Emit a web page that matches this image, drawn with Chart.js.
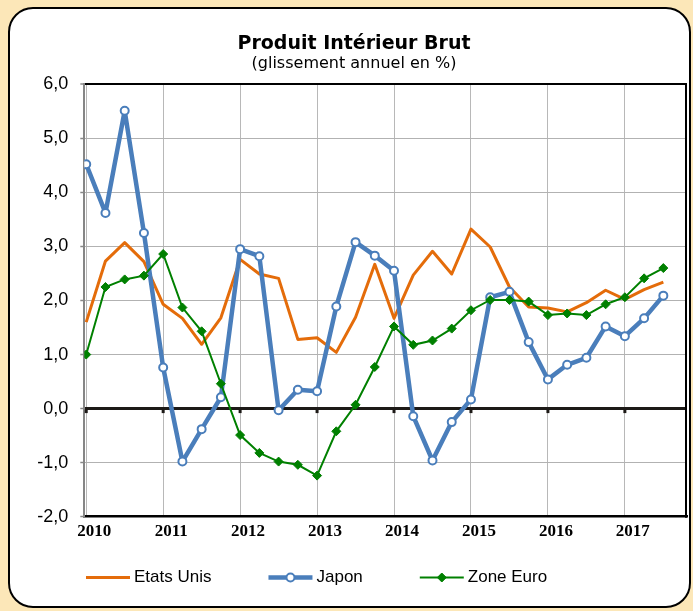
<!DOCTYPE html>
<html>
<head>
<meta charset="utf-8">
<script src="https://cdn.jsdelivr.net/npm/chart.js@4/dist/chart.umd.min.js"></script>
<style>
  html, body { margin: 0; padding: 0; background: #fce7b8; }
</style>
</head>
<body>
<canvas id="pibChart" width="693" height="611"></canvas>
<script>
// year labels, one tick every 4 quarters
const years = ['2010', '2011', '2012', '2013', '2014', '2015', '2016', '2017'];

// quarterly values, 2010 T1 -> 2017 T3
const etatsUnis = [1.60, 2.73, 3.07, 2.72, 1.93, 1.67, 1.19, 1.68, 2.76, 2.49, 2.41, 1.28,
  1.31, 1.04, 1.69, 2.67, 1.67, 2.47, 2.91, 2.49, 3.32, 2.99, 2.25, 1.88,
  1.86, 1.79, 1.96, 2.19, 2.02, 2.20, 2.34];
const japon = [4.52, 3.62, 5.51, 3.25, 0.76, -0.98, -0.38, 0.21, 2.95, 2.82, -0.03, 0.35,
  0.32, 1.89, 3.08, 2.83, 2.55, -0.14, -0.96, -0.25, 0.17, 2.06, 2.16, 1.23,
  0.54, 0.81, 0.94, 1.52, 1.34, 1.67, 2.09];
const zoneEuro = [1.00, 2.25, 2.39, 2.46, 2.86, 1.87, 1.43, 0.46, -0.49, -0.82, -0.98, -1.04,
  -1.24, -0.42, 0.07, 0.77, 1.52, 1.18, 1.26, 1.48, 1.82, 2.01, 2.01, 1.98,
  1.73, 1.76, 1.73, 1.93, 2.06, 2.41, 2.60];

const toPoints = arr => arr.map((v, i) => ({ x: i, y: v }));

// white rounded card on beige page, plus right border and zero-line ticks
const framePlugin = {
  id: 'frame',
  beforeDraw(chart) {
    const ctx = chart.ctx;
    ctx.save();
    ctx.fillStyle = '#fce7b8';
    ctx.fillRect(0, 0, chart.width, chart.height);
    ctx.beginPath();
    ctx.roundRect(9, 8, 681, 599, 24);
    ctx.fillStyle = '#fff';
    ctx.fill();
    ctx.lineWidth = 2;
    ctx.strokeStyle = '#000';
    ctx.stroke();
    ctx.restore();
  },
  beforeDatasetsDraw(chart) {
    const ctx = chart.ctx;
    const area = chart.chartArea;
    const y0 = chart.scales.y.getPixelForValue(0);
    ctx.save();
    ctx.fillStyle = '#1d1a17';
    chart.scales.x.ticks.forEach(t => {
      const x = chart.scales.x.getPixelForValue(t.value);
      ctx.fillRect(x - 1.5, y0 + 1, 3, 3.5);
    });
    ctx.strokeStyle = '#000';
    ctx.lineWidth = 2;
    ctx.beginPath();
    ctx.moveTo(area.right - 1, area.top - 1);
    ctx.lineTo(area.right - 1, area.bottom + 1);
    ctx.stroke();
    ctx.restore();
  }
};

// legend with line + marker samples
const legendPlugin = {
  id: 'lineLegend',
  afterDraw(chart) {
    const ctx = chart.ctx;
    const y = 577.5;
    let x = 86;
    ctx.save();
    ctx.font = '17px "Liberation Sans", Arial, sans-serif';
    ctx.textBaseline = 'middle';
    chart.data.datasets.forEach(ds => {
      ctx.strokeStyle = ds.borderColor;
      ctx.lineWidth = ds.borderWidth;
      ctx.beginPath();
      ctx.moveTo(x, y);
      ctx.lineTo(x + 44, y);
      ctx.stroke();
      if (ds.pointRadius > 0) {
        ctx.fillStyle = ds.pointBackgroundColor;
        ctx.strokeStyle = ds.pointBorderColor;
        ctx.lineWidth = ds.pointBorderWidth;
        Chart.helpers.drawPoint(ctx, {
          pointStyle: ds.pointStyle,
          radius: ds.pointRadius,
          borderWidth: ds.pointBorderWidth,
          rotation: 0
        }, x + 22, y);
      }
      ctx.fillStyle = '#000';
      ctx.fillText(ds.label, x + 48, y);
      x += 48 + ctx.measureText(ds.label).width + 57;
    });
    ctx.restore();
  }
};

new Chart(document.getElementById('pibChart'), {
  type: 'line',
  data: {
    datasets: [
      {
        label: 'Etats Unis',
        data: toPoints(etatsUnis),
        borderColor: '#e46c0a',
        borderWidth: 3,
        borderJoinStyle: 'round',
        pointRadius: 0,
        tension: 0,
        order: 2
      },
      {
        label: 'Japon',
        data: toPoints(japon),
        borderColor: '#4a7ebb',
        borderWidth: 4.5,
        borderJoinStyle: 'round',
        pointStyle: 'circle',
        pointRadius: 4,
        pointBorderWidth: 2,
        pointBackgroundColor: '#fff',
        pointBorderColor: '#4a7ebb',
        tension: 0,
        order: 1
      },
      {
        label: 'Zone Euro',
        data: toPoints(zoneEuro),
        borderColor: '#008000',
        borderWidth: 2,
        pointStyle: 'rectRot',
        pointRadius: 4.5,
        pointBorderWidth: 1,
        pointBackgroundColor: '#008000',
        pointBorderColor: '#008000',
        tension: 0,
        order: 0
      }
    ]
  },
  options: {
    responsive: false,
    animation: false,
    devicePixelRatio: 1,
    events: [],
    layout: { padding: { top: 12, left: 20, right: 5, bottom: 0 } },
    plugins: {
      legend: { display: false },
      tooltip: { enabled: false },
      title: {
        display: true,
        text: 'Produit Intérieur Brut',
        color: '#000',
        font: { family: 'DejaVu Sans', size: 19, weight: 'bold', lineHeight: 1 },
        padding: { top: 22.5, bottom: 2 }
      },
      subtitle: {
        display: true,
        text: '(glissement annuel en %)',
        color: '#000',
        font: { family: 'DejaVu Sans', size: 16, lineHeight: 1 },
        padding: { top: 0, bottom: 12.8 }
      }
    },
    scales: {
      x: {
        type: 'linear',
        min: -0.1,
        max: 31.23,
        afterBuildTicks: s => { s.ticks = years.map((_, i) => ({ value: i * 4 })); },
        afterFit: s => { s.height = 94.3; },
        grid: { color: '#b8b8b8', lineWidth: 1, drawTicks: false },
        border: { color: '#000', width: 2.5 },
        ticks: {
          autoSkip: false,
          maxRotation: 0,
          padding: 5,
          labelOffset: 8,
          color: '#000',
          font: { family: 'Liberation Serif', size: 17, weight: 'bold' },
          callback: v => years[v / 4] || ''
        }
      },
      y: {
        min: -2,
        max: 6,
        afterFit: s => { s.width = 64.3; },
        grid: {
          color: c => c.tick.value === 0 ? '#1d1a17' : (c.tick.value === 6 ? '#000' : '#b2b2b2'),
          lineWidth: c => c.tick.value === 0 ? 3 : (c.tick.value === 6 ? 2 : 1),
          tickColor: '#888',
          tickLength: 4,
          tickWidth: 1.5
        },
        border: { color: '#868686', width: 2 },
        ticks: {
          stepSize: 1,
          padding: 12,
          color: '#000',
          font: { family: 'Liberation Sans', size: 18 },
          callback: v => v.toFixed(1).replace('.', ',')
        }
      }
    }
  },
  plugins: [framePlugin, legendPlugin]
});
</script>
</body>
</html>
